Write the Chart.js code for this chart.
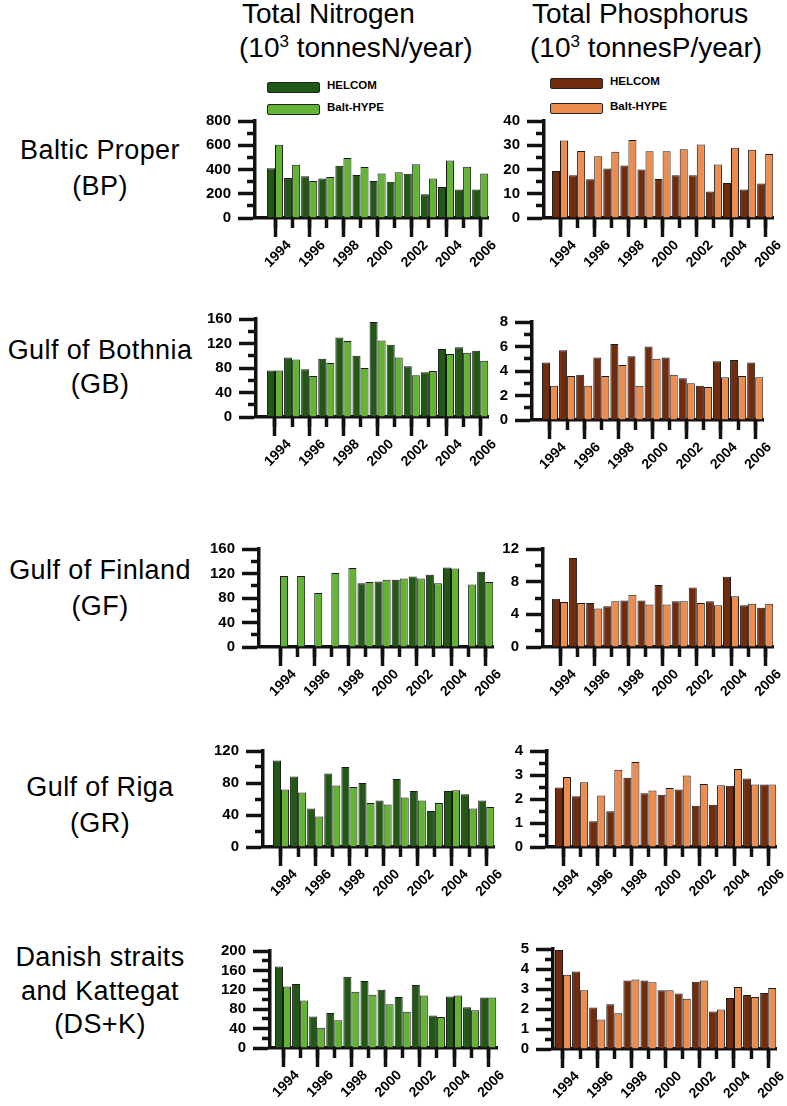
<!DOCTYPE html>
<html>
<head>
<meta charset="utf-8">
<script src="https://cdn.jsdelivr.net/npm/chart.js@4.4.1/dist/chart.umd.min.js"></script>
<style>
  html, body { margin: 0; padding: 0; background: #fff; }
  #root { position: relative; width: 787px; height: 1106px; overflow: hidden; background: #fff; font-family: "Liberation Sans", Arial, sans-serif; color: #000; }
  .t { position: absolute; white-space: nowrap; line-height: 1; }
  canvas { position: absolute; }
  .sw { position: absolute; width: 51px; height: 9px; border: 1px solid #222; border-radius: 2px; }
</style>
</head>
<body>
<div id="root"></div>
<script>
// ---------- DATA ----------
const years = [1994, 1995, 1996, 1997, 1998, 1999, 2000, 2001, 2002, 2003, 2004, 2005, 2006];
const xTickLabels = [1994, 1996, 1998, 2000, 2002, 2004, 2006];
const seriesNames = ["HELCOM", "Balt-HYPE"];

// Baltic Proper
const bpN_helcom = [410, 330, 345, 325, 430, 355, 305, 300, 365, 195, 255, 235, 235];
const bpN_hype   = [605, 440, 305, 338, 495, 420, 368, 377, 444, 325, 475, 423, 368];
const bpP_helcom = [19.4, 17.6, 16.0, 20.4, 21.6, 20.0, 16.1, 17.6, 17.6, 10.9, 14.4, 11.8, 14.2];
const bpP_hype   = [32.0, 27.6, 25.5, 27.3, 32.2, 27.5, 27.5, 28.3, 30.3, 22.1, 29.0, 28.1, 26.4];
// Gulf of Bothnia
const gbN_helcom = [76, 97, 78, 95, 130, 100, 155, 118, 83, 73, 111, 114, 108];
const gbN_hype   = [76, 94, 67, 88, 124, 80, 125, 97, 68, 75, 103, 105, 92];
const gbP_helcom = [4.7, 5.7, 3.7, 5.1, 6.2, 5.2, 6.0, 5.1, 3.4, 2.8, 4.8, 4.9, 4.7];
const gbP_hype   = [2.8, 3.6, 2.8, 3.6, 4.5, 2.8, 5.0, 3.7, 3.0, 2.7, 3.5, 3.6, 3.5];
// Gulf of Finland
const gfN_helcom = [null, null, null, null, null, 104, 107, 110, 115, 118, 130, null, 123];
const gfN_hype   = [116, 116, 88, 121, 129, 106, 110, 112, 112, 104, 128, 102, 106];
const gfP_helcom = [5.9, 10.9, 5.4, 5.0, 5.7, 5.7, 7.6, 5.6, 7.3, 5.6, 8.6, 5.1, 4.8];
const gfP_hype   = [5.5, 5.4, 4.7, 5.6, 6.4, 5.2, 5.2, 5.6, 5.4, 5.1, 6.2, 5.3, 5.3];
// Gulf of Riga
const grN_helcom = [108, 88, 48, 92, 100, 80, 58, 85, 70, 45, 70, 66, 58];
const grN_hype   = [72, 68, 38, 77, 75, 55, 53, 62, 58, 55, 71, 48, 50];
const grP_helcom = [2.48, 2.11, 1.07, 1.49, 2.89, 2.24, 2.18, 2.40, 1.72, 1.76, 2.55, 2.85, 2.6];
const grP_hype   = [2.92, 2.70, 2.15, 3.22, 3.54, 2.35, 2.46, 2.98, 2.63, 2.57, 3.25, 2.6, 2.6];
// Danish straits and Kattegat
const dskN_helcom = [168, 132, 65, 72, 147, 138, 120, 105, 130, 67, 106, 84, 104];
const dskN_hype   = [127, 98, 42, 57, 116, 110, 90, 75, 108, 64, 108, 78, 104];
const dskP_helcom = [4.95, 3.87, 2.08, 2.24, 3.42, 3.42, 2.94, 2.78, 3.36, 1.87, 2.55, 2.7, 2.8];
const dskP_hype   = [3.71, 2.94, 1.47, 1.79, 3.47, 3.34, 2.94, 2.51, 3.42, 1.98, 3.1, 2.6, 3.05];

// y-axis ticks
const ticksBP_N = [0, 200, 400, 600, 800];
const ticksBP_P = [0, 10, 20, 30, 40];
const ticks160 = [0, 40, 80, 120, 160];
const ticksGB_P = [0, 2, 4, 6, 8];
const ticksGF_P = [0, 4, 8, 12];
const ticksGR_N = [0, 40, 80, 120];
const ticksGR_P = [0, 1, 2, 3, 4];
const ticksDSK_N = [0, 40, 80, 120, 160, 200];
const ticksDSK_P = [0, 1, 2, 3, 4, 5];

// ---------- STYLE / LAYOUT ----------
const colN = ["#215816", "#63b334"];
const colP = ["#712b0d", "#ed8c4f"];
const INK = "#111";
const SP = 17.1; // px per year

const root = document.getElementById("root");

function addText(html, x, baseline, size, opt = {}) {
  const d = document.createElement("div");
  d.className = "t";
  d.innerHTML = html;
  d.style.fontSize = size + "px";
  d.style.fontWeight = opt.bold ? "bold" : "normal";
  if (opt.ls) d.style.letterSpacing = opt.ls + "px";
  const top = baseline - 0.846 * size;
  d.style.top = top + "px";
  if (opt.center) {
    d.style.left = (x - 200) + "px";
    d.style.width = "400px";
    d.style.textAlign = "center";
  } else {
    d.style.left = x + "px";
  }
  root.appendChild(d);
}

// titles
const sup = '<span style="font-size:17px;position:relative;top:-10px;">3</span>';
addText("Total Nitrogen", 242, 24, 28);
addText("(10" + sup + " tonnesN/year)", 239, 58, 28);
addText("Total Phosphorus", 532, 24, 28);
addText("(10" + sup + " tonnesP/year)", 530, 58, 28);

// legends
function addLegend(x, ys, cols) {
  seriesNames.forEach((name, i) => {
    const s = document.createElement("div");
    s.className = "sw";
    s.style.left = x + "px";
    s.style.top = ys[i] + "px";
    s.style.background = cols[i];
    root.appendChild(s);
    addText(name, x + 60, ys[i] + 8, 11.5, { bold: true });
  });
}
addLegend(267, [82, 104], colN);
addLegend(550, [78, 103], colP);

// row labels
const rowLabels = [
  { lines: ["Baltic Proper", "(BP)"], base: [160, 196] },
  { lines: ["Gulf of Bothnia", "(GB)"], base: [360, 394] },
  { lines: ["Gulf of Finland", "(GF)"], base: [580, 616] },
  { lines: ["Gulf of Riga", "(GR)"], base: [797, 833] },
  { lines: ["Danish straits", "and Kattegat", "(DS+K)"], base: [967, 1001, 1034] },
];
rowLabels.forEach(r => r.lines.forEach((l, i) => addText(l, 100, r.base[i], 27, { center: true, ls: 0.4 })));

// ---------- PANELS ----------
const PADL = 62, PADB = 70, PADT = 12, PADR = 8;

function makePanel(helcom, hype, cols, yTicks, L) {
  const cv = document.createElement("canvas");
  const w = L.xr - L.xa + PADL + PADR;
  const h = L.y0 - L.yt + PADT + PADB;
  cv.width = w; cv.height = h;
  cv.style.left = (L.xa - PADL) + "px";
  cv.style.top = (L.yt - PADT) + "px";
  cv.style.width = w + "px"; cv.style.height = h + "px";
  root.appendChild(cv);
  const xmin = years[0] - (L.x1994 - L.xa) / SP;
  const xmax = xmin + (L.xr - L.xa) / SP;
  const ymax = yTicks[yTicks.length - 1];
  const ystep = yTicks[1] - yTicks[0];
  const minor = [];
  for (let i = 0; i < yTicks.length - 1; i++) minor.push(yTicks[i] + ystep / 2);
  const tickFontY = { family: "Liberation Sans", size: 15, weight: "bold" };
  const tickFontX = { family: "Liberation Sans", size: 14, weight: "bold" };
  const mk = (arr, i) => ({
    label: seriesNames[i],
    data: years.map((y, k) => ({ x: y, y: arr[k] })),
    backgroundColor: cols[i],
    borderColor: "#1a1a1a",
    borderWidth: 1,
    categoryPercentage: 0.94,
    barPercentage: 1.0,
  });
  new Chart(cv, {
    type: "bar",
    data: { datasets: [mk(helcom, 0), mk(hype, 1)] },
    options: {
      responsive: false, animation: false, devicePixelRatio: 1,
      layout: { padding: { top: PADT, right: PADR, left: 0, bottom: 0 } },
      plugins: { legend: { display: false }, tooltip: { enabled: false } },
      scales: {
        x: {
          type: "linear", position: "bottom", min: xmin, max: xmax, offset: false,
          afterFit: s => { s.height = PADB; },
          afterBuildTicks: s => { s.ticks = xTickLabels.map(v => ({ value: v })); },
          ticks: { callback: v => String(v), minRotation: 45, maxRotation: 45, autoSkip: false,
                   font: tickFontX, color: "#000", padding: 0, labelOffset: 14 },
          grid: { offset: false, drawOnChartArea: false, tickLength: 19, tickWidth: 3.5, color: INK },
          border: { color: INK, width: 3.5 },
        },
        xm: {
          type: "linear", position: { y: 0 }, min: xmin, max: xmax, offset: false,
          afterBuildTicks: s => { s.ticks = years.map(v => ({ value: v })); },
          ticks: { display: false },
          grid: { offset: false, drawOnChartArea: false, tickLength: 10, tickWidth: 3.5, color: INK },
          border: { display: false },
        },
        y: {
          type: "linear", position: "left", min: 0, max: ymax,
          afterFit: s => { s.width = PADL; },
          afterBuildTicks: s => { s.ticks = yTicks.map(v => ({ value: v })); },
          ticks: { font: tickFontY, color: "#000", padding: 7, autoSkip: false },
          grid: { drawOnChartArea: false, tickLength: 17, tickWidth: 3.5, color: INK },
          border: { color: INK, width: 3.5 },
        },
        ym: {
          type: "linear", position: { x: xmin }, min: 0, max: ymax,
          afterBuildTicks: s => { s.ticks = minor.map(v => ({ value: v })); },
          ticks: { display: false },
          grid: { drawOnChartArea: false, tickLength: 8, tickWidth: 3.5, color: INK },
          border: { display: false },
        },
      },
    },
  });
}

makePanel(bpN_helcom, bpN_hype, colN, ticksBP_N, { xa: 255, x1994: 275, xr: 488, yt: 117, y0: 218 });
makePanel(bpP_helcom, bpP_hype, colP, ticksBP_P, { xa: 544, x1994: 560, xr: 773, yt: 117, y0: 218 });
makePanel(gbN_helcom, gbN_hype, colN, ticks160, { xa: 256, x1994: 275, xr: 488, yt: 315, y0: 417 });
makePanel(gbP_helcom, gbP_hype, colP, ticksGB_P, { xa: 532, x1994: 550, xr: 763, yt: 318, y0: 420 });
makePanel(gfN_helcom, gfN_hype, colN, ticks160, { xa: 259, x1994: 280, xr: 493, yt: 545, y0: 647 });
makePanel(gfP_helcom, gfP_hype, colP, ticksGF_P, { xa: 543, x1994: 560, xr: 773, yt: 545, y0: 647 });
makePanel(grN_helcom, grN_hype, colN, ticksGR_N, { xa: 263, x1994: 281, xr: 494, yt: 747, y0: 847 });
makePanel(grP_helcom, grP_hype, colP, ticksGR_P, { xa: 547, x1994: 563, xr: 776, yt: 747, y0: 847 });
makePanel(dskN_helcom, dskN_hype, colN, ticksDSK_N, { xa: 270, x1994: 283, xr: 497, yt: 947, y0: 1048 });
makePanel(dskP_helcom, dskP_hype, colP, ticksDSK_P, { xa: 553, x1994: 563, xr: 776, yt: 945, y0: 1049 });
</script>
</body>
</html>
